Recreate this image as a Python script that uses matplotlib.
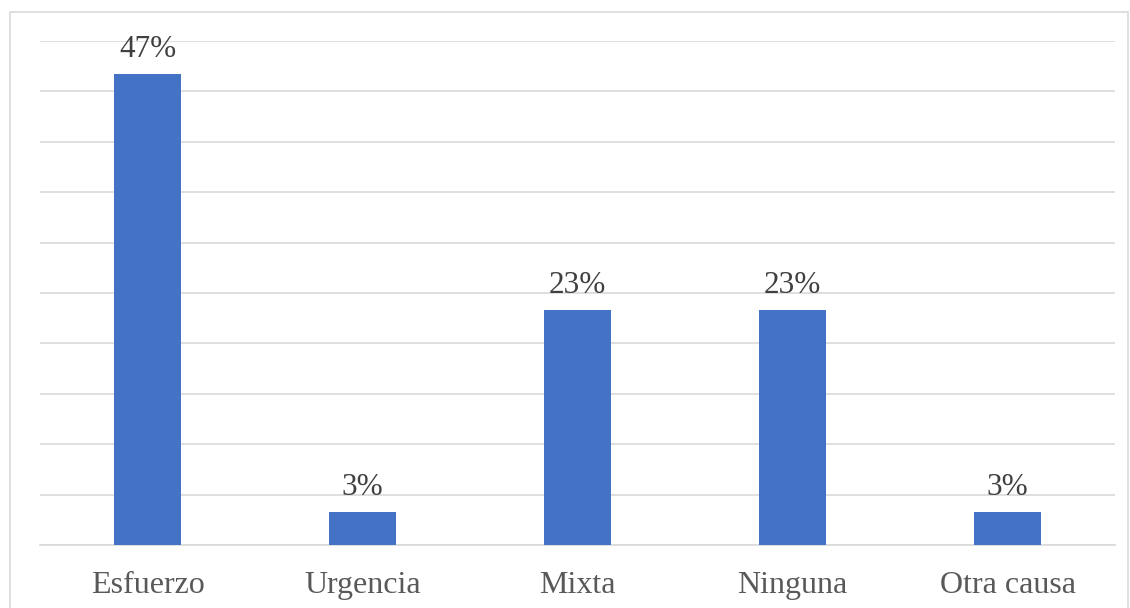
import matplotlib.pyplot as plt
from matplotlib.patches import Rectangle

categories = ["Esfuerzo", "Urgencia", "Mixta", "Ninguna", "Otra causa"]
values = [46.7, 3.3, 23.3, 23.3, 3.3]
labels = ["47%", "3%", "23%", "23%", "3%"]

plt.rcParams['font.family'] = ['Liberation Serif', 'DejaVu Serif']

fig = plt.figure(figsize=(11.3, 6.08), dpi=100)
ax = fig.add_axes([40 / 1130, 63 / 608, 1075 / 1130, 504 / 608])

x = range(len(categories))
bars = ax.bar(x, values, width=0.316, color="#4472C4", zorder=3)
for rect, lab in zip(bars, labels):
    ax.text(rect.get_x() + rect.get_width() / 2, rect.get_height() + 1.0, lab,
            ha="center", va="bottom", fontsize=22.5, color="#404040")

ax.set_xlim(-0.5, len(categories) - 0.5)
ax.set_ylim(0, 50)
ax.set_yticks(range(0, 51, 5))
ax.set_yticklabels([])
ax.tick_params(axis="y", length=0)
ax.tick_params(axis="x", length=0, pad=19, labelsize=23, labelcolor="#595959")
ax.set_xticks(list(x))
ax.set_xticklabels(categories)
ax.grid(axis="y", color="#D9D9D9", linewidth=1.2, zorder=0)
for s in ["top", "right", "left"]:
    ax.spines[s].set_visible(False)
ax.spines["bottom"].set_color("#D9D9D9")
ax.spines["bottom"].set_linewidth(1.2)

# outer chart border
fig.patches.append(Rectangle((10 / 1130, -0.05), 1118 / 1130, (608 - 12) / 608 + 0.05,
                             transform=fig.transFigure, fill=False,
                             edgecolor="#D9D9D9", linewidth=1.2))

fig.savefig("out.png", dpi=100)
